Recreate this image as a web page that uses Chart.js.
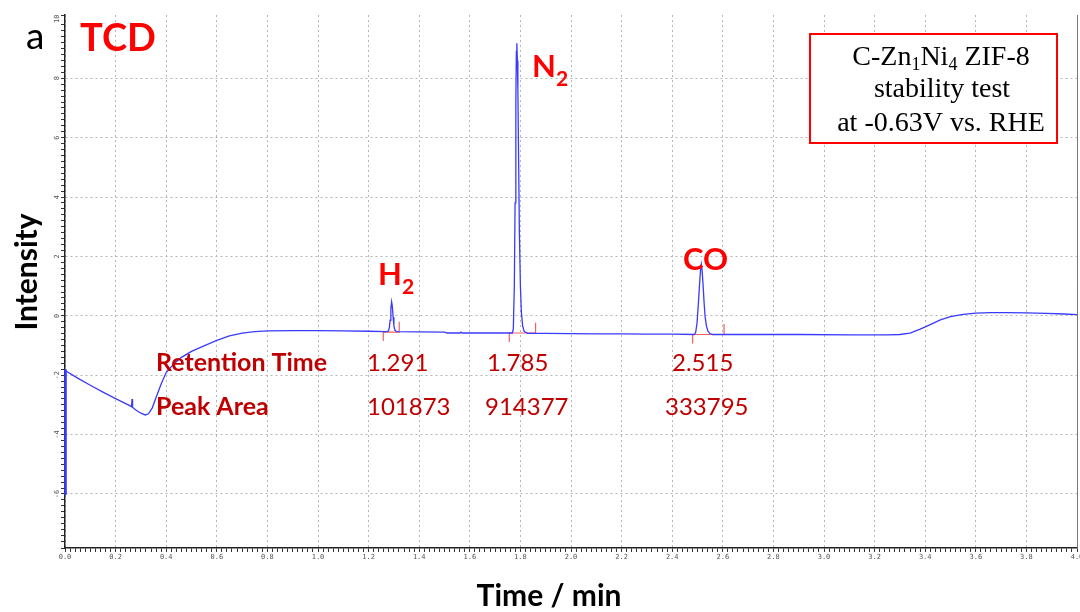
<!DOCTYPE html>
<html>
<head>
<meta charset="utf-8">
<script src="https://cdn.jsdelivr.net/npm/chart.js@4.4.0/dist/chart.umd.min.js"></script>
<style>
  html, body { margin: 0; padding: 0; background: #ffffff; }
  #wrap { width: 1080px; height: 612px; position: relative; }
</style>
</head>
<body>
<div id="wrap"><canvas id="c" width="1080" height="612"></canvas></div>
<script>
// ---------- DATA ----------
const timeMin = [
  0.002, 0.05, 0.10, 0.15, 0.20, 0.25, 0.263, 0.265, 0.267, 0.28, 0.30, 0.317, 0.33, 0.345, 0.36, 0.38,
  0.40, 0.43, 0.46, 0.50, 0.545, 0.60, 0.65, 0.70, 0.75, 0.80, 0.90, 1.00, 1.10, 1.20, 1.27,
  1.278, 1.282, 1.285, 1.288, 1.291, 1.294, 1.297, 1.300, 1.304, 1.31,
  1.40, 1.50, 1.51, 1.56, 1.565, 1.57, 1.65, 1.74, 1.768,
  1.772, 1.776, 1.779, 1.782, 1.784, 1.786, 1.788, 1.790, 1.793, 1.796, 1.800, 1.804, 1.809, 1.815, 1.83,
  1.90, 2.00, 2.10, 2.20, 2.30, 2.40, 2.488,
  2.493, 2.498, 2.503, 2.508, 2.512, 2.515, 2.518, 2.522, 2.526, 2.530, 2.535, 2.541, 2.55, 2.56,
  2.70, 2.90, 3.10, 3.25, 3.30, 3.34, 3.38, 3.42, 3.46, 3.50, 3.55, 3.60, 3.66, 3.72, 3.80, 3.88, 3.95, 4.00
];
const intensity = [
  -1.85, -2.10, -2.34, -2.57, -2.79, -3.00, -3.06, -2.80, -3.08, -3.17, -3.28, -3.34, -3.30, -3.10, -2.75, -2.30,
  -1.91, -1.62, -1.40, -1.20, -1.03, -0.83, -0.68, -0.58, -0.53, -0.51, -0.50, -0.50, -0.51, -0.52, -0.53,
  -0.52, -0.40, -0.15, 0.25, 0.47, 0.30, -0.05, -0.33, -0.48, -0.53,
  -0.54, -0.55, -0.58, -0.58, -0.55, -0.58, -0.58, -0.58, -0.58,
  -0.45, 1.00, 3.80, 7.20, 8.90, 9.18, 8.60, 7.60, 5.20, 2.80, 1.00, 0.10, -0.35, -0.53, -0.59,
  -0.59, -0.60, -0.61, -0.61, -0.62, -0.62, -0.63,
  -0.55, -0.25, 0.35, 1.05, 1.55, 1.73, 1.55, 1.05, 0.45, -0.02, -0.33, -0.52, -0.60, -0.63,
  -0.63, -0.63, -0.64, -0.64, -0.63, -0.58, -0.45, -0.30, -0.14, -0.03, 0.05, 0.09, 0.11, 0.11, 0.10, 0.08, 0.06, 0.04
];

// injection disturbance at t = 0 (vertical stroke along the axis)
const injTime      = [0.002, 0.002];
const injIntensity = [-6.03, -1.80];

// integration markers (start / end / baseline level of each peak)
const peakNames   = ['H2', 'N2', 'CO'];
const integStart  = [1.258, 1.756, 2.481];
const integEnd    = [1.321, 1.860, 2.605];
const integBase   = [-0.55, -0.58, -0.63];

// peak table
const retentionTimes = ['1.291', '1.785', '2.515'];
const peakAreas      = ['101873', '914377', '333795'];

// axis ticks
const xMajorTicks = [0.0, 0.2, 0.4, 0.6, 0.8, 1.0, 1.2, 1.4, 1.6, 1.8, 2.0, 2.2, 2.4, 2.6, 2.8, 3.0, 3.2, 3.4, 3.6, 3.8, 4.0];
const yMajorTicks = [-6, -4, -2, 0, 2, 4, 6, 8, 10];

// ---------- CHART ----------
const isMajor = (v, step) => Math.abs(v / step - Math.round(v / step)) < 1e-6;

const traceData = timeMin.map((t, i) => ({ x: t, y: intensity[i] }));
const injData = injTime.map((t, i) => ({ x: t, y: injIntensity[i] }));

const markerSets = peakNames.map((name, i) => ({
  label: name + ' integration',
  data: [
    { x: integStart[i], y: integBase[i] - 0.3 },
    { x: integStart[i], y: integBase[i] },
    { x: integEnd[i],   y: integBase[i] },
    { x: integEnd[i],   y: integBase[i] + 0.35 }
  ],
  showLine: true,
  borderColor: '#f06060',
  borderWidth: 1.2,
  pointRadius: 0,
  tension: 0,
  order: 3
}));

function drawSubText(ctx, parts, x, y, mainFont, subFont, subDy) {
  let cx = x;
  parts.forEach(p => {
    ctx.font = p.sub ? subFont : mainFont;
    ctx.fillText(p.t, cx, p.sub ? y + subDy : y);
    cx += ctx.measureText(p.t).width;
  });
}
function measureParts(ctx, parts, mainFont, subFont) {
  let w = 0;
  parts.forEach(p => { ctx.font = p.sub ? subFont : mainFont; w += ctx.measureText(p.t).width; });
  return w;
}

const decor = {
  id: 'decor',
  afterDraw(chart) {
    const ctx = chart.ctx;
    const ys = chart.scales.y;
    const area = chart.chartArea;
    ctx.save();

    // right frame line
    ctx.strokeStyle = '#777';
    ctx.lineWidth = 1;
    ctx.beginPath();
    ctx.moveTo(area.right + 0.5, area.top);
    ctx.lineTo(area.right + 0.5, area.bottom);
    ctx.stroke();

    // y tick labels (rotated, tiny)
    ctx.fillStyle = '#555';
    ctx.font = '7px "DejaVu Sans Mono"';
    ctx.textAlign = 'center';
    ctx.textBaseline = 'middle';
    yMajorTicks.forEach(v => {
      const py = ys.getPixelForValue(v);
      ctx.save();
      ctx.translate(57, py);
      ctx.rotate(-Math.PI / 2);
      ctx.fillText(String(v), 0, 0);
      ctx.restore();
    });

    // axis titles
    ctx.fillStyle = '#000';
    ctx.font = 'bold 30px Lato';
    ctx.textAlign = 'center';
    ctx.textBaseline = 'alphabetic';
    ctx.fillText('Time / min', 549, 606);
    ctx.save();
    ctx.translate(37, 272);
    ctx.rotate(-Math.PI / 2);
    ctx.fillText('Intensity', 0, 0);
    ctx.restore();

    // panel letter
    ctx.textAlign = 'left';
    ctx.font = '37px Lato';
    ctx.fillStyle = '#000';
    ctx.fillText('a', 26, 49);

    // TCD
    ctx.fillStyle = '#ff0000';
    ctx.font = 'bold 38px Lato';
    ctx.fillText('TCD', 80, 51);

    // peak labels
    const mainF = 'bold 31px Lato', subF = 'bold 21px Lato';
    drawSubText(ctx, [{ t: 'H' }, { t: '2', sub: true }], 378, 285, mainF, subF, 9);
    drawSubText(ctx, [{ t: 'N' }, { t: '2', sub: true }], 532, 77, mainF, subF, 9);
    drawSubText(ctx, [{ t: 'CO' }], 683, 270, mainF, subF, 9);

    // peak table
    ctx.fillStyle = '#c00000';
    ctx.font = 'bold 25px Lato';
    ctx.fillText('Retention Time', 156, 371);
    ctx.fillText('Peak Area', 156, 415);
    ctx.font = '24px Lato';
    const rtX = [367, 487, 672];
    const paX = [367, 485, 665];
    retentionTimes.forEach((s, i) => ctx.fillText(s, rtX[i], 371));
    peakAreas.forEach((s, i) => ctx.fillText(s, paX[i], 415));

    // info box
    ctx.fillStyle = '#ffffff';
    ctx.fillRect(810, 34, 247, 109);
    ctx.strokeStyle = '#ff0000';
    ctx.lineWidth = 2;
    ctx.strokeRect(810, 34, 247, 109);
    ctx.fillStyle = '#000';
    const sF = '28px "Liberation Serif"', sSub = '18px "Liberation Serif"';
    const line1 = [{ t: 'C-Zn' }, { t: '1', sub: true }, { t: 'Ni' }, { t: '4', sub: true }, { t: ' ZIF-8' }];
    const w1 = measureParts(ctx, line1, sF, sSub);
    drawSubText(ctx, line1, 941 - w1 / 2, 65, sF, sSub, 5);
    ctx.font = sF;
    ctx.textAlign = 'center';
    ctx.fillText('stability test', 942, 97);
    ctx.fillText('at -0.63V vs. RHE', 941, 131);

    ctx.restore();
  }
};

new Chart(document.getElementById('c'), {
  type: 'scatter',
  data: {
    datasets: [
      {
        label: 'TCD signal',
        data: traceData,
        showLine: true,
        borderColor: '#3a3aff',
        borderWidth: 1.3,
        pointRadius: 0,
        tension: 0,
        clip: false,
        order: 1
      },
      {
        label: 'injection',
        data: injData,
        showLine: true,
        borderColor: '#3a3aff',
        borderWidth: 2.6,
        pointRadius: 0,
        tension: 0,
        clip: false,
        order: 2
      },
      ...markerSets
    ]
  },
  options: {
    responsive: false,
    animation: false,
    events: [],
    layout: { padding: { left: 0, right: 3, top: 15, bottom: 0 } },
    plugins: { legend: { display: false }, tooltip: { enabled: false } },
    scales: {
      x: {
        type: 'linear',
        min: 0,
        max: 4,
        afterFit: s => { s.height = 64; s.paddingLeft = 0; s.paddingRight = 0; },
        ticks: {
          stepSize: 0.02,
          autoSkip: false,
          maxRotation: 0,
          minRotation: 0,
          padding: 1,
          color: '#555',
          font: { family: 'DejaVu Sans Mono', size: 7 },
          callback: v => (xMajorTicks.some(m => Math.abs(m - v) < 1e-6) ? v.toFixed(1) : '')
        },
        grid: {
          color: c => (c.tick && isMajor(c.tick.value, 0.2) ? '#b5b5b5' : 'rgba(0,0,0,0)'),
          tickColor: '#333',
          tickLength: 4,
          tickWidth: 1,
          lineWidth: 1
        },
        border: { display: true, color: '#222', width: 1.5, dash: [2, 3] }
      },
      y: {
        type: 'linear',
        min: -7.82,
        max: 10.13,
        afterFit: s => { s.width = 65; },
        ticks: { display: false, stepSize: 0.2 },
        grid: {
          color: c => (c.tick && isMajor(c.tick.value, 2) ? '#b5b5b5' : 'rgba(0,0,0,0)'),
          tickColor: '#333',
          tickLength: 4,
          tickWidth: 1,
          lineWidth: 1
        },
        border: { display: true, color: '#222', width: 1.5, dash: [2, 3] }
      }
    }
  },
  plugins: [decor]
});
</script>
</body>
</html>
